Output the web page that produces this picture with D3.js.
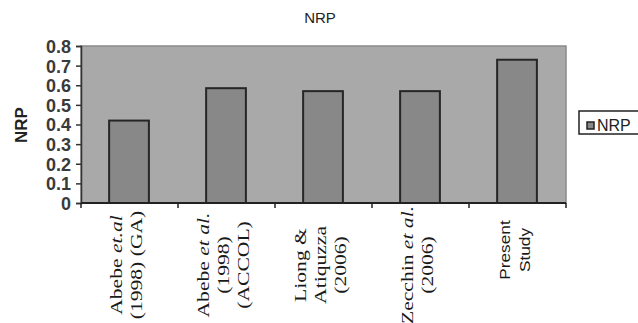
<!DOCTYPE html>
<html><head><meta charset="utf-8">
<script src="https://cdn.jsdelivr.net/npm/d3@7"></script>
<style>body{margin:0;background:#fff}</style>
</head><body>
<svg id="c" width="638" height="323"></svg>
<script>
// ---- data ----
const categories = ["Abebe 1998 GA", "Abebe 1998 ACCOL", "Liong & Atiquzza 2006", "Zecchin 2006", "Present Study"];
const values = [0.42, 0.585, 0.57, 0.57, 0.73];
const yTicks = [0, 0.1, 0.2, 0.3, 0.4, 0.5, 0.6, 0.7, 0.8];
// label lines: arrays of [text, italic] segments per line
const labelLines = [
  [[["Abebe ", false], ["et.al", true]], [["(1998) (GA)", false]]],
  [[["Abebe ", false], ["et al.", true]], [["(1998)", false]], [["(ACCOL)", false]]],
  [[["Liong &", false]], [["Atiquzza", false]], [["(2006)", false]]],
  [[["Zecchin ", false], ["et al.", true]], [["(2006)", false]]],
  [[["Present", false]], [["Study", false]]]
];
const seriesName = "NRP";
const titleText = "NRP";

// ---- layout ----
const svg = d3.select("#c");
const X0 = 81, X1 = 566, Y0 = 203, Y1 = 46;
const x = d3.scaleBand().domain(categories).range([X0, X1]).padding(0);
const y = d3.scaleLinear().domain([0, 0.8]).range([Y0, Y1]);

// plot background
svg.append("rect").attr("x", X0).attr("y", Y1).attr("width", X1 - X0).attr("height", Y0 - Y1)
  .attr("fill", "#a9a9a9").attr("stroke", "#8a8a8a").attr("stroke-width", 1.5);

// bars
const bw = x.bandwidth();
svg.selectAll("rect.bar").data(categories).enter().append("rect").attr("class", "bar")
  .attr("x", (d) => x(d) + bw * 0.29)
  .attr("width", bw * 0.41)
  .attr("y", (d, i) => y(values[i]))
  .attr("height", (d, i) => Y0 - y(values[i]))
  .attr("fill", "#888888").attr("stroke", "#262626").attr("stroke-width", 2);

// y axis
const yAxis = d3.axisLeft(y).tickValues(yTicks).tickSize(5).tickPadding(5)
  .tickFormat((d) => d === 0 ? "0" : d3.format(".1f")(d));
const gy = svg.append("g").attr("transform", `translate(${X0},0)`).call(yAxis);
gy.select(".domain").attr("stroke", "#333").attr("stroke-width", 1.5);
gy.selectAll(".tick line").attr("stroke", "#333").attr("stroke-width", 1.5);
gy.selectAll(".tick text").attr("font-family", "Arial, 'Liberation Sans', sans-serif")
  .attr("font-size", 18).attr("font-weight", "bold").attr("fill", "#3a3a3a").attr("dy", "0.36em");

// x axis: category boundary ticks
const bounds = categories.map((c) => x(c)).concat([X1]);
svg.append("line").attr("x1", X0).attr("x2", X1).attr("y1", Y0).attr("y2", Y0)
  .attr("stroke", "#222").attr("stroke-width", 2);
svg.selectAll("line.xt").data(bounds).enter().append("line").attr("class", "xt")
  .attr("x1", (d) => d).attr("x2", (d) => d).attr("y1", Y0).attr("y2", Y0 + 5)
  .attr("stroke", "#222").attr("stroke-width", 1.5);

// x labels (rotated)
const lineGap = 20;
labelLines.forEach((lines, i) => {
  const cx = x(categories[i]) + bw / 2 - 3;
  const isSans = i === 4;
  const g = svg.append("g").attr("transform", `translate(${cx}, ${isSans ? 250 : 265}) rotate(-90)`);
  const n = lines.length;
  lines.forEach((segs, j) => {
    const dy = (j - (n - 1) / 2) * lineGap;
    const t = g.append("text").attr("x", 0).attr("y", dy).attr("dy", "0.35em")
      .attr("text-anchor", "middle")
      .attr("font-family", isSans ? "Arial, 'Liberation Sans', sans-serif" : "'Times New Roman', 'Liberation Serif', serif")
      .attr("font-size", isSans ? 15 : 16).attr("fill", "#1a1a1a")
      .attr("transform", isSans ? "scale(1.15,1)" : "scale(1.35,1)");
    segs.forEach(([s, it]) => t.append("tspan").text(s).attr("font-style", it ? "italic" : "normal"));
  });
});

// title
svg.append("text").attr("x", 320).attr("y", 23).attr("text-anchor", "middle")
  .attr("font-family", "Arial, 'Liberation Sans', sans-serif").attr("font-size", 15).attr("fill", "#222")
  .text(titleText);

// y axis title
svg.append("text").attr("transform", "translate(27,125) rotate(-90)").attr("text-anchor", "middle")
  .attr("font-family", "Arial, 'Liberation Sans', sans-serif").attr("font-size", 17).attr("font-weight", "bold")
  .attr("fill", "#222").text(seriesName);

// legend
const lg = svg.append("g");
lg.append("rect").attr("x", 579).attr("y", 111).attr("width", 70).attr("height", 23)
  .attr("fill", "#fff").attr("stroke", "#222").attr("stroke-width", 1.5);
lg.append("rect").attr("x", 587).attr("y", 122).attr("width", 7).attr("height", 7)
  .attr("fill", "#888").attr("stroke", "#222").attr("stroke-width", 1.5);
lg.append("text").attr("x", 597).attr("y", 131).attr("font-family", "Arial, 'Liberation Sans', sans-serif")
  .attr("font-size", 16).attr("fill", "#222").text(seriesName);
</script>
</body></html>
